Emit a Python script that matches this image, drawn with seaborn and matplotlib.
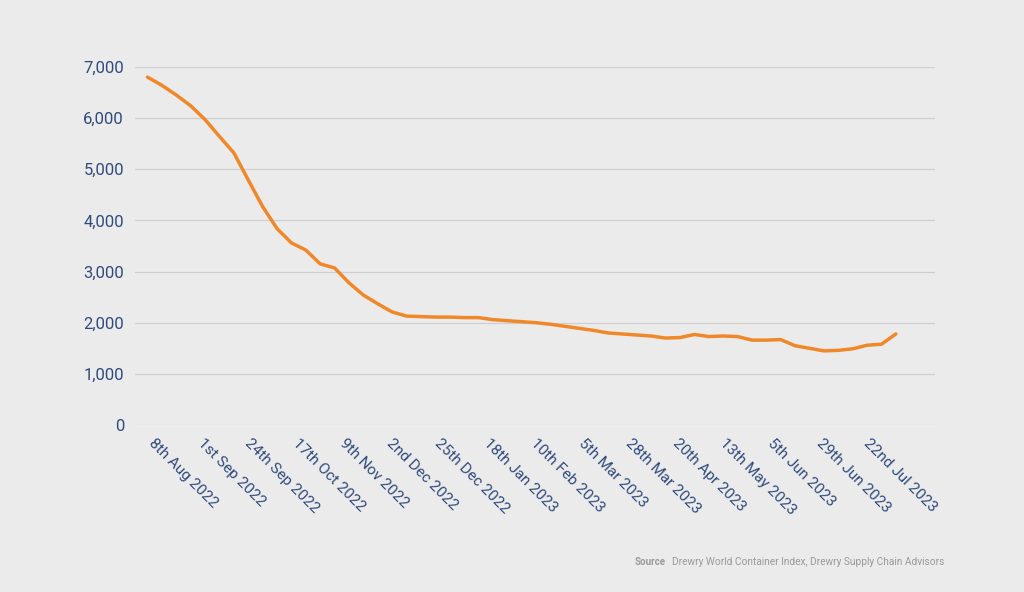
import pandas as pd
import seaborn as sns
import matplotlib.pyplot as plt
import matplotlib.transforms as mtransforms

start = "2022-08-04"
values = [6800, 6640, 6450, 6240, 5970, 5640, 5320, 4790, 4270, 3840,
          3560, 3420, 3150, 3070, 2780, 2540, 2370, 2210, 2130, 2120,
          2110, 2110, 2100, 2100, 2060, 2040, 2020, 2000, 1970, 1930,
          1890, 1850, 1800, 1780, 1760, 1740, 1700, 1710, 1770, 1730,
          1740, 1730, 1660, 1660, 1670, 1550, 1500, 1450, 1460, 1490,
          1560, 1580, 1780]
tick_dates = ["2022-08-08", "2022-09-01", "2022-09-24", "2022-10-17", "2022-11-09",
              "2022-12-02", "2022-12-25", "2023-01-18", "2023-02-10", "2023-03-05",
              "2023-03-28", "2023-04-20", "2023-05-13", "2023-06-05", "2023-06-29",
              "2023-07-22"]
tick_labels = ["8th Aug 2022", "1st Sep 2022", "24th Sep 2022", "17th Oct 2022",
               "9th Nov 2022", "2nd Dec 2022", "25th Dec 2022", "18th Jan 2023",
               "10th Feb 2023", "5th Mar 2023", "28th Mar 2023", "20th Apr 2023",
               "13th May 2023", "5th Jun 2023", "29th Jun 2023", "22nd Jul 2023"]

df = pd.DataFrame({"date": pd.date_range(start, periods=len(values), freq="7D"),
                   "rate": values})

bg = "#ebebeb"
txt = "#2f4b7c"
sns.set_style("white")
plt.rcParams["font.family"] = ["Roboto", "DejaVu Sans"]

fig = plt.figure(figsize=(10.24, 5.92), dpi=100, facecolor=bg)
ax = fig.add_axes([0.132, 0.282, 0.781, 0.605], facecolor=bg)
sns.lineplot(data=df, x="date", y="rate", color="#f0882a", linewidth=2.5, ax=ax)

ax.set_ylim(0, 7000)
ax.set_yticks(range(0, 7001, 1000))
ax.set_yticklabels([f"{v:,}" for v in range(0, 7001, 1000)], color=txt, fontsize=12)
ax.set_xlim(pd.Timestamp("2022-07-29"), pd.Timestamp("2023-08-22"))
ax.set_xticks(pd.to_datetime(tick_dates))
ax.set_xticklabels(tick_labels, rotation=-45, ha="left", va="top",
                   rotation_mode="anchor", color=txt, fontsize=11)
shift = mtransforms.ScaledTranslation(6 / 100, 0, fig.dpi_scale_trans)
for lab in ax.get_xticklabels():
    lab.set_transform(lab.get_transform() + shift)
ax.grid(axis="y", color="#cfcfcf", linewidth=0.9)
ax.tick_params(length=0, pad=8)
for s in ax.spines.values():
    s.set_visible(False)
ax.set_xlabel("")
ax.set_ylabel("")

fig.text(0.620, 0.045, "Source", fontsize=7, color="#999999", fontweight="bold")
fig.text(0.656, 0.045, "Drewry World Container Index, Drewry Supply Chain Advisors",
         fontsize=7.3, color="#999999")

fig.savefig("out.png", dpi=100, facecolor=bg)
